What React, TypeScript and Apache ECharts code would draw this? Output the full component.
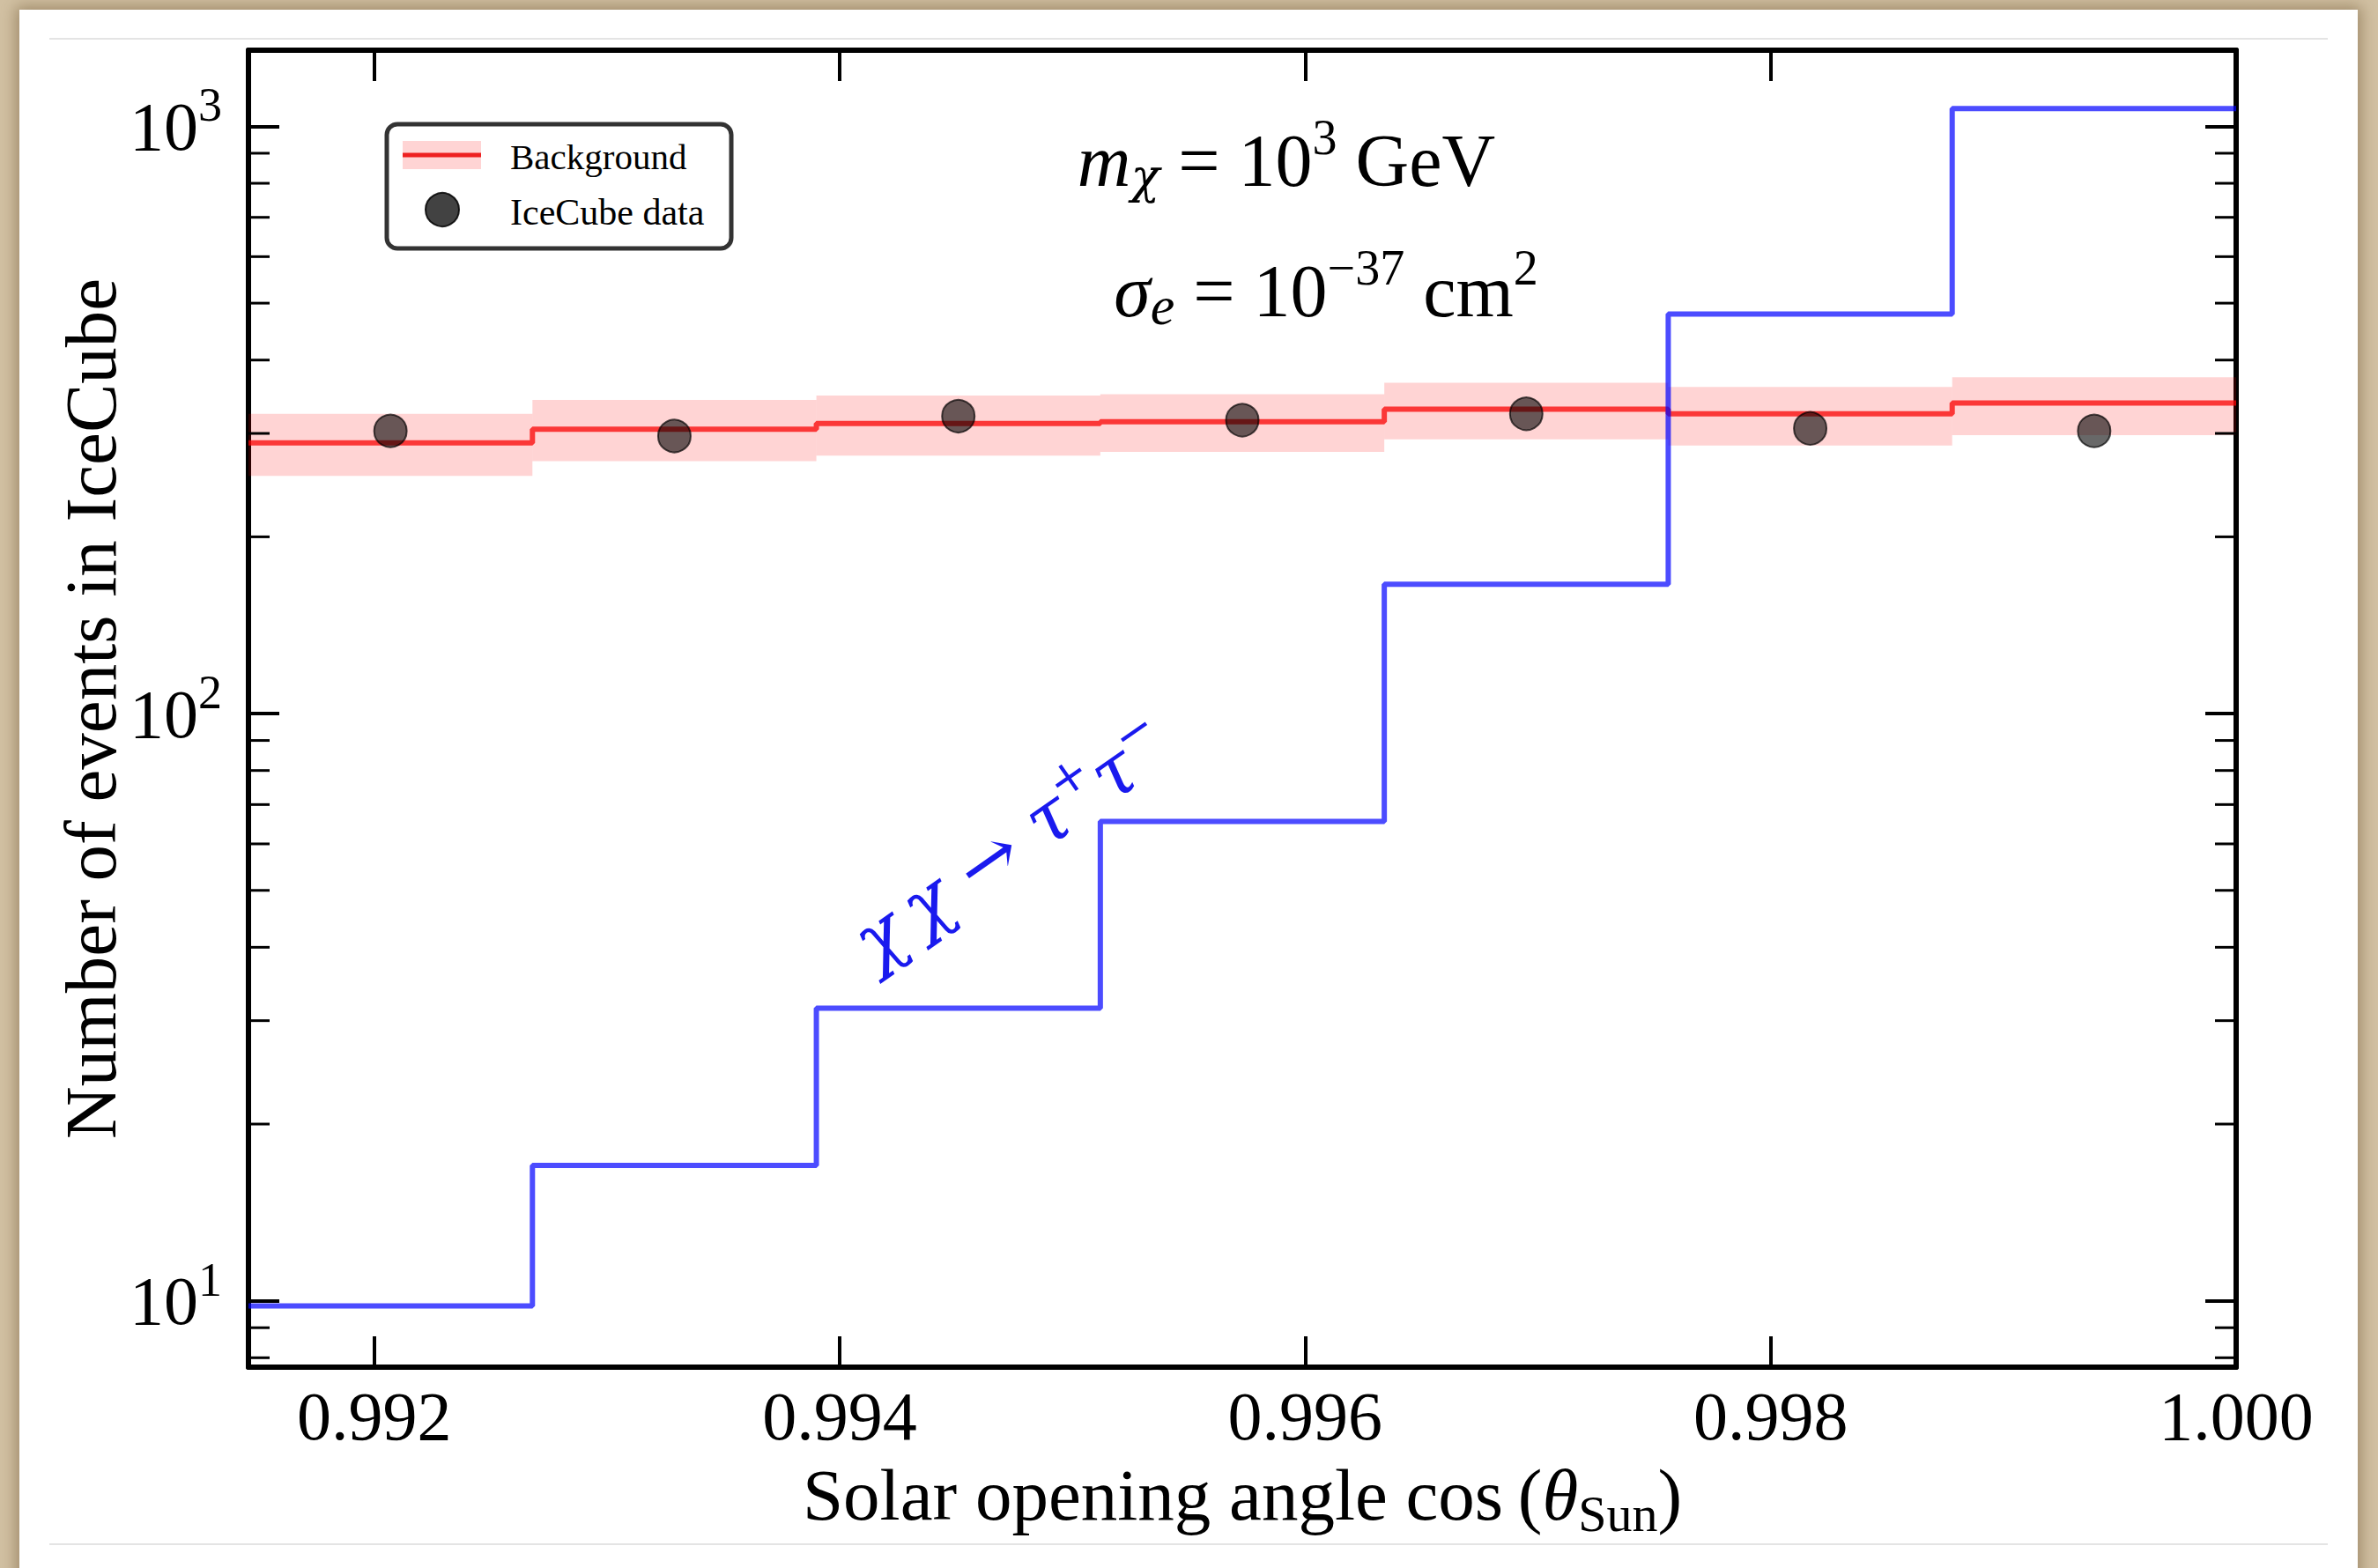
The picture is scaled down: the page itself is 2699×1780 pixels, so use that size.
import React, { useEffect, useRef } from 'react';
import * as echarts from 'echarts';

// ---------- data ----------
const binEdges = [0.99146, 0.99268, 0.9939, 0.99512, 0.99634, 0.99756, 0.99878, 1.0];
const backgroundCounts = [289, 305, 312, 314, 330, 324, 338];
const backgroundLower = [254, 269, 275, 279, 293, 286, 298];
const backgroundUpper = [324, 342, 348, 350, 366, 360, 374];
const iceCubeData = [303, 297, 321, 316, 324, 306, 303];
const signalCounts = [9.8, 17.0, 31.5, 65.5, 166, 479, 1072];
const yMinorTicks = [8, 9, 20, 30, 40, 50, 60, 70, 80, 90, 200, 300, 400, 500, 600, 700, 800, 900];
const xTickLabels = ['0.992', '0.994', '0.996', '0.998', '1.000'];
const yRange = [7.71, 1348];

const FONT = "'Liberation Serif', 'DejaVu Serif', serif";
const GREEK = "'DejaVu Serif', 'Liberation Serif', serif";

function stepData(values: number[]) {
  return binEdges.map((x, i) => [x, values[Math.min(i, values.length - 1)]]);
}

export default function App() {
  const ref = useRef<HTMLDivElement>(null);

  useEffect(() => {
    if (!ref.current) return;
    const chart = echarts.init(ref.current, null, { renderer: 'svg' });

    const binCenters = binEdges.slice(0, -1).map((e, i) => (e + binEdges[i + 1]) / 2);
    const bandData = binEdges.slice(0, -1).map((x0, i) => [x0, binEdges[i + 1], backgroundLower[i], backgroundUpper[i]]);
    const xMin = binEdges[0];
    const xMax = binEdges[binEdges.length - 1];

    const axisLine = { show: true, onZero: false, lineStyle: { color: '#000', width: 6 } };
    const majorTick = { show: true, inside: true, length: 35, lineStyle: { color: '#000', width: 4 } };

    const xFormatter = (v: number) => {
      const k = Math.round(v / 0.002);
      if (Math.abs(v - k * 0.002) > 1e-7) return '';
      const s = v.toFixed(3);
      return xTickLabels.indexOf(s) >= 0 ? s : '';
    };
    const yFormatter = (v: number) => {
      const l = Math.log10(v);
      const e = Math.round(l);
      if (Math.abs(l - e) > 1e-6) return '';
      return `{b|10}{s|${e}}`;
    };

    const option: any = {
      animation: false,
      backgroundColor: 'transparent',
      grid: { left: 282, right: 161, top: 57, bottom: 228, containLabel: false, outerBoundsMode: 'none' },
      xAxis: [
        {
          type: 'value',
          min: xMin,
          max: xMax,
          position: 'bottom',
          axisLine,
          axisTick: majorTick,
          splitLine: { show: false },
          axisLabel: {
            show: true,
            margin: 16,
            color: '#000',
            fontFamily: FONT,
            fontSize: 78,
            formatter: xFormatter,
          },
          name: '{r|Solar opening angle cos\u2009(}{i|θ}{s|Sun}{r|)}',
          nameLocation: 'middle',
          nameGap: 95,
          nameMoveOverlap: false,
          nameTextStyle: {
            color: '#000',
            fontFamily: FONT,
            fontSize: 83,
            rich: {
              r: { fontFamily: FONT, fontSize: 83, color: '#000' },
              i: { fontFamily: FONT, fontSize: 83, fontStyle: 'italic', color: '#000' },
              s: { fontFamily: FONT, fontSize: 58, color: '#000', padding: [42, 0, 0, 0] },
            },
          },
        },
        {
          type: 'value',
          min: xMin,
          max: xMax,
          position: 'top',
          axisLine,
          axisTick: majorTick,
          splitLine: { show: false },
          axisLabel: { show: false },
        },
      ],
      yAxis: [
        {
          type: 'log',
          logBase: 10,
          min: yRange[0],
          max: yRange[1],
          position: 'left',
          axisLine,
          axisTick: majorTick,
          splitLine: { show: false },
          axisLabel: {
            show: true,
            margin: 30,
            color: '#000',
            fontFamily: FONT,
            fontSize: 78,
            formatter: yFormatter,
            rich: {
              b: { fontFamily: FONT, fontSize: 78, color: '#000' },
              s: { fontFamily: FONT, fontSize: 54, color: '#000', padding: [0, 0, 48, 0] },
            },
          },
          name: 'Number of events in IceCube',
          nameLocation: 'middle',
          nameGap: 138,
          nameMoveOverlap: false,
          nameTextStyle: { color: '#000', fontFamily: FONT, fontSize: 83 },
        },
        {
          type: 'log',
          logBase: 10,
          min: yRange[0],
          max: yRange[1],
          position: 'right',
          axisLine,
          axisTick: majorTick,
          splitLine: { show: false },
          axisLabel: { show: false },
        },
      ],
      series: [
        {
          name: 'Background band',
          type: 'custom',
          coordinateSystem: 'cartesian2d',
          xAxisIndex: 0,
          yAxisIndex: 0,
          silent: true,
          z: 1,
          encode: { x: [0, 1], y: [2, 3] },
          data: bandData,
          renderItem: (params: any, api: any) => {
            const p0 = api.coord([api.value(0), api.value(3)]);
            const p1 = api.coord([api.value(1), api.value(2)]);
            return {
              type: 'rect',
              shape: { x: p0[0], y: p0[1], width: p1[0] - p0[0], height: p1[1] - p0[1] },
              style: { fill: 'rgba(255,0,0,0.17)' },
            };
          },
        },
        {
          name: 'Background',
          type: 'line',
          step: 'end',
          showSymbol: false,
          symbol: 'none',
          z: 2,
          data: stepData(backgroundCounts),
          lineStyle: { color: 'rgba(250,0,0,0.74)', width: 6 },
        },
        {
          name: 'χχ → τ+τ−',
          type: 'line',
          step: 'end',
          showSymbol: false,
          symbol: 'none',
          z: 3,
          data: stepData(signalCounts),
          lineStyle: { color: 'rgba(0,0,255,0.7)', width: 6 },
        },
        {
          name: 'IceCube data',
          type: 'scatter',
          z: 4,
          symbol: 'circle',
          symbolSize: 37,
          data: binCenters.map((c, i) => [c, iceCubeData[i]]),
          itemStyle: { color: 'rgba(0,0,0,0.74)', borderColor: 'rgba(0,0,0,0.85)', borderWidth: 2 },
        },
        {
          name: 'minor ticks',
          type: 'custom',
          coordinateSystem: 'cartesian2d',
          silent: true,
          z: 5,
          encode: { x: 0, y: 1 },
          data: yMinorTicks.map((v) => [xMin, v]),
          renderItem: (params: any, api: any) => {
            const v = api.value(1);
            const pl = api.coord([xMin, v]);
            const pr = api.coord([xMax, v]);
            return {
              type: 'group',
              children: [
                { type: 'line', shape: { x1: pl[0], y1: pl[1], x2: pl[0] + 24, y2: pl[1] }, style: { stroke: '#000', lineWidth: 3 } },
                { type: 'line', shape: { x1: pr[0] - 24, y1: pr[1], x2: pr[0], y2: pr[1] }, style: { stroke: '#000', lineWidth: 3 } },
              ],
            };
          },
        },
      ],
      graphic: [
        { type: 'line', silent: true, shape: { x1: 56, y1: 44, x2: 2642, y2: 44 }, style: { stroke: '#e4e4e4', lineWidth: 2 } },
        { type: 'line', silent: true, shape: { x1: 56, y1: 1753, x2: 2642, y2: 1753 }, style: { stroke: '#e4e4e4', lineWidth: 2 } },
        // legend
        {
          type: 'group',
          z: 100,
          children: [
            { type: 'rect', shape: { x: 439, y: 141, width: 391, height: 141, r: 12 }, style: { fill: '#fff', stroke: '#333', lineWidth: 5 } },
            { type: 'rect', shape: { x: 457, y: 160, width: 89, height: 32 }, style: { fill: 'rgba(255,0,0,0.17)' } },
            { type: 'line', shape: { x1: 457, y1: 176, x2: 546, y2: 176 }, style: { stroke: 'rgba(235,0,0,0.85)', lineWidth: 5 } },
            { type: 'circle', shape: { cx: 502, cy: 238, r: 19 }, style: { fill: 'rgba(0,0,0,0.74)', stroke: 'rgba(0,0,0,0.85)', lineWidth: 2 } },
            { type: 'text', x: 579, y: 178, style: { text: 'Background', fontFamily: FONT, fontSize: 41, fill: '#000', align: 'left', verticalAlign: 'middle' } },
            { type: 'text', x: 579, y: 241, style: { text: 'IceCube data', fontFamily: FONT, fontSize: 42, fill: '#000', align: 'left', verticalAlign: 'middle' } },
          ],
        },
        // annotations
        {
          type: 'text',
          z: 100,
          x: 1460,
          y: 182,
          style: {
            text: '{i|m}{sub|χ}{r| = 10}{sup|3}{r| GeV}',
            fontFamily: FONT,
            fontSize: 84,
            fill: '#000',
            align: 'center',
            verticalAlign: 'middle',
            rich: {
              i: { fontFamily: FONT, fontSize: 84, fontStyle: 'italic', fill: '#000' },
              r: { fontFamily: FONT, fontSize: 84, fill: '#000' },
              sub: { fontFamily: GREEK, fontSize: 54, fontStyle: 'italic', fill: '#000', padding: [36, 0, 0, 0] },
              sup: { fontFamily: FONT, fontSize: 56, fill: '#000', padding: [0, 0, 52, 0] },
            },
          },
        },
        {
          type: 'text',
          z: 100,
          x: 1505,
          y: 330,
          style: {
            text: '{i|σ}{sub|e}{r| = 10}{sup|−37}{r| cm}{sup|2}',
            fontFamily: FONT,
            fontSize: 84,
            fill: '#000',
            align: 'center',
            verticalAlign: 'middle',
            rich: {
              i: { fontFamily: FONT, fontSize: 84, fontStyle: 'italic', fill: '#000' },
              r: { fontFamily: FONT, fontSize: 84, fill: '#000' },
              sub: { fontFamily: FONT, fontSize: 62, fontStyle: 'italic', fill: '#000', padding: [34, 0, 0, 0] },
              sup: { fontFamily: FONT, fontSize: 56, fill: '#000', padding: [0, 0, 52, 0] },
            },
          },
        },
        {
          type: 'text',
          z: 100,
          x: 1148,
          y: 957,
          rotation: (35 * Math.PI) / 180,
          style: {
            text: '{i|χ\u2009χ}{r| → }{i|τ}{sup|+}{i|τ}{sup|−}',
            fontFamily: GREEK,
            fontSize: 82,
            fill: '#1a1aee',
            align: 'center',
            verticalAlign: 'middle',
            rich: {
              i: { fontFamily: GREEK, fontSize: 82, fontStyle: 'italic', fill: '#1a1aee' },
              r: { fontFamily: GREEK, fontSize: 82, fill: '#1a1aee' },
              sup: { fontFamily: GREEK, fontSize: 54, fill: '#1a1aee', padding: [0, 0, 50, 0] },
            },
          },
        },
      ],
    };

    chart.setOption(option);
    return () => chart.dispose();
  }, []);

  return (
    <div
      style={{
        position: 'fixed',
        left: 0,
        top: 0,
        width: 2699,
        height: 1780,
        overflow: 'hidden',
        background: '#d2c1a3',
      }}
    >
      <div
        style={{
          position: 'absolute',
          left: 22,
          top: 11,
          width: 2654,
          height: 1800,
          background: '#ffffff',
          boxShadow: '0 0 16px 4px rgba(110,85,50,0.5)',
        }}
      />
      <div ref={ref} style={{ position: 'absolute', left: 0, top: 0, width: 2699, height: 1780 }} />
    </div>
  );
}
